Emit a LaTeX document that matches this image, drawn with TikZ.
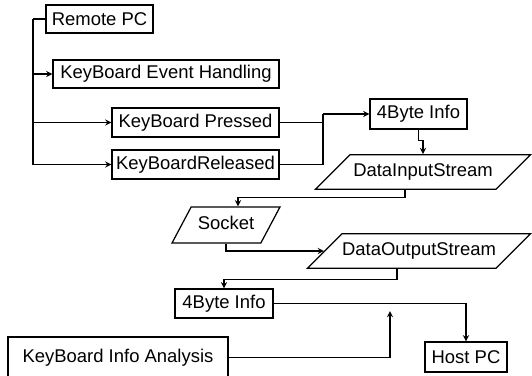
\documentclass[tikz,border=0pt]{standalone}
\usepackage{fontspec}
\setmainfont{Liberation Sans}
\usetikzlibrary{ calc, positioning, arrows, shapes.geometric }
\tikzset{
    box_node/.style={rectangle, text centered, align=center, draw=black, line width=0.7pt, inner sep=0pt,
        font=\fontsize{10.5}{12}\selectfont},
    stream_node/.style={trapezium, trapezium left angle=45, trapezium right angle=135,
        trapezium stretches body, text centered, draw=black, line width=0.7pt,
        inner xsep=0pt, inner ysep=4.6pt, text height=8pt, text depth=2.5pt,
        font=\fontsize{10.5}{12}\selectfont},
    socket_node/.style={stream_node, trapezium left angle=62, trapezium right angle=118, inner ysep=5pt},
    arrow/.style={line width=0.6pt, ->, >=stealth},
    line/.style={line width=0.6pt},
}

\begin{document}
\begin{tikzpicture}[x=0.02cm, y=-0.02cm]
      \useasboundingbox (0,0) rectangle (532,376);
      %%%%%%%%%%%%%%%%%%%%
      % Remote PC events %
      %%%%%%%%%%%%%%%%%%%%
      \node (remote) [box_node, minimum width=2.14cm, minimum height=0.56cm] at (99.5,19)
          {Remote PC};
      \node (event) [box_node, minimum width=4.52cm, minimum height=0.56cm] at (166,74)
          {KeyBoard Event Handling};
      \node (pressed) [box_node, minimum width=3.34cm, minimum height=0.58cm] at (195.5,122.5)
          {KeyBoard Pressed};
      \node (released) [box_node, minimum width=3.34cm, minimum height=0.58cm] at (195.5,164.5)
          {KeyBoardReleased};
      \node (info1) [box_node, minimum width=1.94cm, minimum height=0.6cm] at (418.5,114)
          {4Byte Info};

      \coordinate (bus) at (33,19);
      \coordinate (merge) at (323,114);
      \draw [line] (remote.west) -- (bus);
      \draw [arrow] (bus) |- (event.west);
      \draw [arrow] (bus) |- (pressed.west);
      \draw [arrow] (bus) |- (released.west);
      \draw [line] (pressed.east) -| (merge);
      \draw [line] (released.east) -| (merge);
      \draw [arrow] (merge) -- (info1.west);

      %%%%%%%%%%%%%%%%%%%%
      % Streams + socket %
      %%%%%%%%%%%%%%%%%%%%
      \node (dis) [stream_node, minimum width=4.3cm] at (423,172)
          {DataInputStream};
      \node (socket) [socket_node, minimum width=2.16cm] at (226,225)
          {Socket};
      \node (dos) [stream_node, minimum width=4.16cm] at (419,251)
          {DataOutputStream};

      \draw [arrow] (info1.south) -- ++(0,11) -| (dis.north);
      \draw [arrow] ([xshift=-0.36cm]dis.south) -- ++(0,8) -| ([xshift=0.24cm]socket.north);
      \draw [arrow] (socket.south) |- (dos.left side);

      %%%%%%%%%%%%%%%%%%%%
      % Host PC side     %
      %%%%%%%%%%%%%%%%%%%%
      \node (info2) [box_node, minimum width=1.96cm, minimum height=0.58cm] at (224,303.5)
          {4Byte Info};
      \node (host) [box_node, minimum width=1.64cm, minimum height=0.6cm] at (466,357)
          {Host PC};
      \node (analysis) [box_node, minimum width=4.4cm, minimum height=0.82cm] at (118,357.5)
          {KeyBoard Info Analysis};

      \coordinate (probe) at (390,311);
      \draw [arrow] ([xshift=-0.44cm]dos.south) -- ++(0,11) -| (info2.north);
      \draw [arrow] (info2.east) -| (host.north);
      \draw [arrow] (analysis.east) -| (probe);

    \end{tikzpicture}
\end{document}
